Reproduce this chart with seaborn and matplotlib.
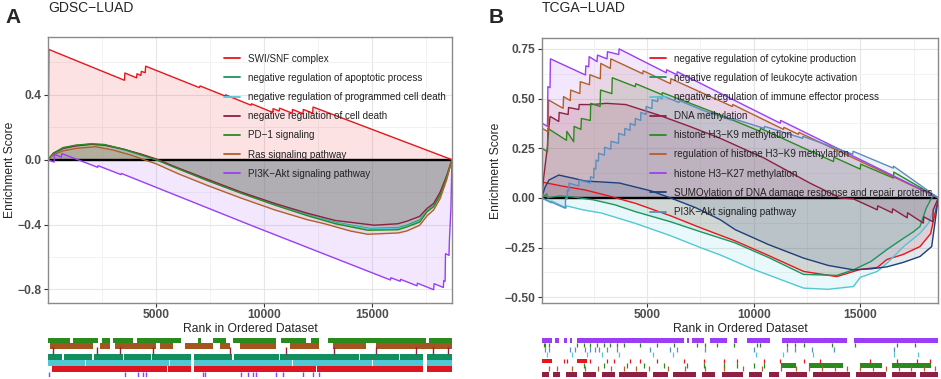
import numpy as np
import pandas as pd
import matplotlib
matplotlib.use('Agg')
import matplotlib.pyplot as plt
import seaborn as sns
from matplotlib.lines import Line2D
from matplotlib.ticker import FixedLocator

sns.set_theme(style='white')
plt.rcParams['font.family'] = ['Liberation Sans', 'DejaVu Sans']

# ---------------- panel A : GDSC-LUAD ----------------
a_names = ['SWI/SNF complex', 'negative regulation of apoptotic process',
           'negative regulation of programmed cell death', 'negative regulation of cell death',
           'PD\u22121 signaling', 'Ras signaling pathway', 'PI3K\u2212Akt signaling pathway']
a_colors = ['#E8161C', '#1E9460', '#52C8D6', '#8E2043', '#2A8A1E', '#B0602A', '#9B3DF5']

swi_rank = [1, 40, 3540, 3560, 4100, 4120, 4300, 4320, 4500, 4520, 7000, 7040, 8200, 8220, 9400, 9420,
            10400, 10420, 10700, 10720, 11300, 11320, 11800, 11820, 12250, 12270, 18700]
swi_es = [0, 0.68, 0.49, 0.535, 0.505, 0.53, 0.52, 0.545, 0.537, 0.577, 0.445, 0.455, 0.393, 0.40,
          0.336, 0.345, 0.292, 0.315, 0.30, 0.318, 0.287, 0.31, 0.284, 0.31, 0.287, 0.325, 0]

apop_rank = [1, 250, 700, 1300, 2000, 2600, 3500, 4300, 5000, 6000, 7400, 8900, 10500, 12000, 13300,
             14900, 16200, 16600, 17200, 17550, 17850, 18150, 18450, 18700]
apop_es = [0, 0.035, 0.07, 0.088, 0.096, 0.092, 0.063, 0.03, 0.002, -0.052, -0.127, -0.202, -0.276,
           -0.34, -0.387, -0.425, -0.42, -0.405, -0.372, -0.315, -0.283, -0.215, -0.108, 0]

prog_rank = [1, 250, 700, 1300, 2000, 2600, 3500, 4300, 5000, 6000, 7400, 8900, 10500, 12000, 13300,
             14900, 16200, 16600, 17200, 17550, 17850, 18150, 18450, 18700]
prog_es = [0, 0.036, 0.071, 0.088, 0.095, 0.091, 0.062, 0.03, 0.001, -0.053, -0.128, -0.203, -0.277,
           -0.342, -0.39, -0.428, -0.424, -0.41, -0.378, -0.318, -0.286, -0.218, -0.11, 0]

death_rank = [1, 250, 700, 1300, 2000, 2600, 3500, 4300, 5000, 6000, 7400, 8900, 10500, 12000, 13300,
              15100, 16200, 16600, 17200, 17550, 17850, 18150, 18450, 18700]
death_es = [0, 0.04, 0.07, 0.085, 0.095, 0.09, 0.065, 0.035, 0.005, -0.05, -0.122, -0.198, -0.27,
            -0.33, -0.375, -0.404, -0.395, -0.38, -0.35, -0.30, -0.27, -0.20, -0.10, 0]

pd1_rank = [1, 250, 700, 1300, 2000, 2600, 3500, 4300, 5000, 6000, 7400, 8900, 10500, 12000, 13300,
            14800, 16200, 16600, 17200, 17550, 17850, 18150, 18450, 18700]
pd1_es = [0, 0.04, 0.075, 0.09, 0.098, 0.094, 0.065, 0.03, 0.0, -0.055, -0.13, -0.205, -0.28, -0.345,
          -0.395, -0.435, -0.432, -0.415, -0.385, -0.32, -0.29, -0.22, -0.11, 0]

ras_rank = [1, 250, 700, 1300, 2200, 3000, 3800, 4450, 5000, 6000, 7400, 8900, 10500, 12000, 12800,
            14000, 14800, 16200, 16600, 17200, 17550, 17850, 18150, 18450, 18700]
ras_es = [0, 0.03, 0.055, 0.07, 0.08, 0.06, 0.03, 0.0, -0.025, -0.085, -0.16, -0.235, -0.31, -0.37,
          -0.395, -0.44, -0.46, -0.452, -0.44, -0.405, -0.345, -0.31, -0.24, -0.125, 0]

pi3k_a_rank = [1, 280, 300, 620, 640, 2300, 2320, 3380, 3400, 9400, 15850, 15870, 16300, 16320, 17080,
               17100, 17850, 17870, 18300, 18320, 18380, 18400, 18560, 18580, 18650, 18700]
pi3k_a_es = [0, -0.015, 0.033, 0.016, 0.038, -0.047, -0.037, -0.092, -0.085, -0.405, -0.742, -0.728,
             -0.75, -0.738, -0.778, -0.762, -0.802, -0.765, -0.788, -0.745, -0.75, -0.58, -0.59, -0.5,
             -0.3, 0]

a_ranks = [swi_rank, apop_rank, prog_rank, death_rank, pd1_rank, ras_rank, pi3k_a_rank]
a_scores = [swi_es, apop_es, prog_es, death_es, pd1_es, ras_es, pi3k_a_es]

# rug rows of panel A (top to bottom): dense runs of hits and single hits
a_rug_green = [(1, 1016), (1170, 2325), (2479, 2864), (3018, 3942), (4127, 6175), (6945, 7099),
               (7638, 8254), (8562, 10564), (10795, 11950), (12181, 12566), (12951, 17494), (17648, 18700)]
a_rug_brown = [(92, 2094), (2402, 2864), (3095, 5020), (5174, 5790), (6329, 7638), (7946, 8408),
               (8870, 10564), (11180, 12566), (13182, 14722), (15184, 18700)]
a_rug_maroon = [246, 2248, 3326, 4866, 8408, 11026, 13259, 15184, 17032, 17802, 18495]
a_rug_teal = [(1, 660), (730, 2060), (2130, 3450), (3510, 4760), (4820, 6620), (6780, 8530),
              (8600, 10690), (10750, 14380), (14450, 16230), (16300, 17340), (17550, 18700)]
a_rug_cyan = [(1, 1700), (1760, 5600), (5660, 6620), (6780, 11300), (11360, 15000), (15060, 17340),
              (17550, 18700)]
a_rug_red = [(200, 5500), (5560, 6620), (6780, 12400), (12460, 17340), (17550, 18700)]
a_rug_purple = [62, 3557, 4173, 4404, 4558, 7176, 7253, 8947, 9255, 9486, 9640, 10564, 10872, 11796,
                12258, 12566]

# ---------------- panel B : TCGA-LUAD ----------------
b_names = ['negative regulation of cytokine production', 'negative regulation of leukocyte activation',
           'negative regulation of immune effector process', 'DNA methylation',
           'histone H3\u2212K9 methylation', 'regulation of histone H3\u2212K9 methylation',
           'histone H3\u2212K27 methylation', 'SUMOylation of DNA damage response and repair proteins',
           'PI3K\u2212Akt signaling pathway']
b_colors = ['#E8161C', '#1E9460', '#52C8D6', '#8E2043', '#2A8A1E', '#B0602A', '#9B3DF5', '#1F3F7A',
            '#5B8DBE']

cyto_rank = [60, 90, 300, 1000, 2100, 3200, 4450, 6100, 7500, 9100, 10700, 12340, 13900, 15000, 15800,
             16250, 17000, 17800, 18300, 18660]
cyto_es = [0, 0.08, 0.075, 0.06, 0.04, 0.01, -0.027, -0.09, -0.15, -0.215, -0.29, -0.37, -0.396, -0.36,
           -0.35, -0.31, -0.285, -0.245, -0.18, 0]

leuk_rank = [60, 300, 320, 900, 1500, 2500, 3500, 4450, 6100, 7500, 9100, 10700, 12340, 13900, 14680,
             15500, 16250, 17030, 17500, 17800, 18100, 18300, 18450, 18660]
leuk_es = [0, 0.02, 0.0, 0.01, 0.005, -0.01, -0.035, -0.069, -0.12, -0.17, -0.225, -0.30, -0.385, -0.39,
           -0.362, -0.32, -0.26, -0.203, -0.17, -0.144, -0.05, -0.01, 0.015, 0]

immu_rank = [60, 500, 520, 1200, 1220, 2000, 2890, 4500, 6100, 7500, 8435, 10000, 12340, 13500, 14680,
             15000, 15800, 16250, 17030, 17800, 18200, 18660]
immu_es = [0, -0.025, -0.015, -0.05, -0.04, -0.06, -0.077, -0.13, -0.19, -0.25, -0.287, -0.36, -0.454,
           -0.46, -0.446, -0.40, -0.37, -0.329, -0.245, -0.178, -0.127, 0]

dna_rank = [60, 150, 330, 350, 440, 460, 860, 880, 1300, 1320, 1800, 1820, 2400, 3100, 4000, 5545, 7000,
            8435, 10500, 12650, 14060, 14680, 15800, 15820, 16500, 16520, 17200, 17220, 17960, 17980,
            18400, 18420, 18660]
dna_es = [0, 0.10, 0.258, 0.30, 0.40, 0.41, 0.385, 0.43, 0.42, 0.455, 0.445, 0.47, 0.47, 0.476, 0.47,
          0.417, 0.36, 0.30, 0.20, 0.074, 0.0, -0.005, -0.06, -0.04, -0.075, -0.055, -0.10, -0.075,
          -0.127, -0.095, -0.12, -0.06, 0]

k9_rank = [60, 80, 330, 350, 1220, 1240, 1560, 1580, 1900, 1920, 2340, 2360, 2800, 2820, 3350, 3370,
           4450, 4470, 5700, 5720, 8435, 10300, 10320, 13744, 13764, 15000, 15020, 16555, 16575, 18660]
k9_es = [0, 0.25, 0.232, 0.35, 0.29, 0.335, 0.283, 0.36, 0.345, 0.40, 0.39, 0.476, 0.46, 0.543, 0.525,
         0.605, 0.56, 0.575, 0.52, 0.53, 0.418, 0.335, 0.35, 0.183, 0.205, 0.145, 0.17, 0.10, 0.13, 0]

regk9_rank = [60, 80, 360, 380, 1065, 1085, 1400, 1420, 1850, 1870, 2300, 2320, 2810, 2830, 3280, 3300,
              4800, 4820, 6100, 6120, 9000, 9020, 11400, 11420, 12100, 12120, 18660]
regk9_es = [0, 0.35, 0.333, 0.493, 0.451, 0.51, 0.49, 0.543, 0.525, 0.585, 0.57, 0.62, 0.60, 0.677,
            0.652, 0.70, 0.625, 0.64, 0.575, 0.60, 0.46, 0.47, 0.345, 0.355, 0.32, 0.33, 0]

k27_rank = [60, 80, 330, 350, 450, 470, 2109, 2130, 2265, 2285, 2656, 2676, 3124, 3144, 3671, 3691,
            5900, 5920, 6400, 6420, 11246, 11266, 18660]
k27_es = [0, 0.376, 0.36, 0.56, 0.555, 0.70, 0.619, 0.665, 0.66, 0.711, 0.686, 0.719, 0.70, 0.736,
          0.722, 0.75, 0.63, 0.645, 0.62, 0.635, 0.376, 0.39, 0]

sumo_rank = [60, 200, 400, 860, 1500, 2100, 3700, 5200, 6100, 7300, 8435, 9138, 10700, 12340, 13500,
             14680, 15500, 16250, 17000, 17800, 18350, 18660]
sumo_es = [0, 0.05, 0.09, 0.115, 0.10, 0.085, 0.075, 0.035, 0.0, -0.05, -0.11, -0.16, -0.235, -0.303,
           -0.34, -0.362, -0.357, -0.347, -0.325, -0.295, -0.245, 0]

pi3k_b_rank = [60, 1170, 1180, 1250, 1260, 1330, 1340, 1800, 1810, 2340, 2350, 2500, 2510, 2600, 2610,
               2720, 2730, 3000, 3010, 3300, 3310, 3660, 3670, 3950, 3960, 4200, 4210, 4440, 4450, 4700,
               4710, 4950, 4960, 5230, 5240, 5500, 5510, 5700, 5710, 6500, 6510, 7650, 9000, 9010, 10500,
               10510, 12300, 12310, 14650, 14660, 16550, 16560, 18660]
pi3k_b_es = [0, -0.052, 0.0, -0.005, 0.04, 0.035, 0.074, 0.06, 0.09, 0.075, 0.107, 0.10, 0.15, 0.145,
             0.19, 0.185, 0.225, 0.215, 0.255, 0.245, 0.285, 0.275, 0.325, 0.315, 0.35, 0.34, 0.375, 0.365,
             0.40, 0.39, 0.43, 0.42, 0.46, 0.45, 0.493, 0.485, 0.51, 0.50, 0.515, 0.48, 0.49, 0.44, 0.39,
             0.40, 0.35, 0.36, 0.30, 0.31, 0.22, 0.235, 0.15, 0.16, 0]

b_ranks = [cyto_rank, leuk_rank, immu_rank, dna_rank, k9_rank, regk9_rank, k27_rank, sumo_rank, pi3k_b_rank]
b_scores = [cyto_es, leuk_es, immu_es, dna_es, k9_es, regk9_es, k27_es, sumo_es, pi3k_b_es]

b_rug_purple = [(80, 549), (705, 861), (1095, 1252), (1408, 1486), (1720, 6719), (6875, 6953),
                (7109, 7656), (7968, 8749), (9061, 9218), (9686, 10780), (11326, 14372), (14685, 18660)]
b_rug_k9 = [158, 236, 392, 1720, 2033, 2345, 2657, 2970, 3282, 3595, 3907, 4688, 5469, 6250, 7343,
            7734, 8281, 9061, 10155, 10311, 11561, 11951, 12342, 13670, 14763, 16715, 17574]
b_rug_steel = [236, 392, 1408, 1642, 2111, 2345, 2579, 2735, 3126, 3595, 5157, 6094, 6406, 7734,
               10000, 11561, 11951, 12732, 13748, 16559]
b_rug_cyan = [300, 1500, 2200, 2900, 3700, 5300, 6200, 10100, 11400, 12800, 16600, 17700]
b_rug_red_runs = [(80, 549), (1720, 2189)]
b_rug_red = [1095, 1252, 2345, 3126, 3438, 4219, 4688, 5469, 6719, 7656, 8593, 9218, 10467, 11248,
             12342, 13123, 15466, 16715, 17652, 18277]
b_rug_green = [2033, 2970, 4063, 4844, 5781, 6875, 7656, 8593, 9218, 10000, 10467]
b_rug_green_runs = [(11300, 12000), (12600, 14200), (15000, 16000), (16500, 18300)]
b_rug_brown = [392, 800, 1500, 2100, 2700, 3300, 3900, 4500, 5100, 6000, 6800, 7700, 8600, 9500, 10400,
               11300, 12000, 12600, 13200, 13800, 14400, 15000, 15600, 16200, 16800, 17400, 18000, 18500]
b_rug_maroon = [(80, 400), (600, 900), (1200, 1700), (2000, 2600), (2900, 3500), (3700, 5000),
                (5300, 6000), (6200, 7300), (7600, 8200), (8500, 9500), (9800, 10400), (10700, 11200),
                (11500, 12500), (12800, 14500), (14800, 16200), (16500, 17600), (17800, 18660)]

W, H = 941, 379


def es_panel(rect, names, colors, ranks, scores, xlim, ylim, yticks, yminor, fmt, leg_xy, pad):
    ax = fig.add_axes(rect)
    frames = []
    for n, r, s in zip(names, ranks, scores):
        frames.append(pd.DataFrame({'rank': r, 'es': s, 'set': n}))
    df = pd.concat(frames, ignore_index=True)
    for n, c in zip(names, colors):
        sub = df[df['set'] == n]
        ax.fill_between(sub['rank'], sub['es'], 0, color=c, alpha=0.12, lw=0, zorder=1)
    ax.axhline(0, color='black', lw=1.7, zorder=1.5)
    sns.lineplot(data=df, x='rank', y='es', hue='set', hue_order=names,
                 palette=dict(zip(names, colors)), estimator=None, sort=False,
                 legend=False, lw=1.0, ax=ax, zorder=2)
    ax.set_xlim(*xlim)
    ax.set_ylim(*ylim)
    ax.set_xticks([5000, 10000, 15000], ['5000', '10000', '15000'], fontweight='bold')
    ax.set_yticks(yticks, [fmt.format(v).replace('-', '\u2212') for v in yticks], fontweight='bold')
    ax.xaxis.set_minor_locator(FixedLocator([2500, 7500, 12500, 17500]))
    ax.yaxis.set_minor_locator(FixedLocator(yminor))
    ax.grid(which='major', color='#E6E6E6', lw=0.8)
    ax.grid(which='minor', color='#F0F0F0', lw=0.6)
    ax.set_axisbelow(True)
    ax.tick_params(which='major', length=3, width=0.8, color='#333333', pad=1.5,
                   labelsize=8.7, labelcolor='#4D4D4D', bottom=True, left=True)
    ax.tick_params(which='minor', length=0)
    for sp in ax.spines.values():
        sp.set_color('#8A8A8A')
        sp.set_linewidth(1.0)
    ax.set_xlabel('Rank in Ordered Dataset', fontsize=8.7, labelpad=1.5)
    ax.set_ylabel('Enrichment Score', fontsize=8.7, labelpad=pad)
    handles = [Line2D([0], [0], color=c, lw=1.3) for c in colors]
    ax.legend(handles, names, loc='upper left', bbox_to_anchor=leg_xy, frameon=False, fontsize=7.1,
              handlelength=1.65, handletextpad=0.75, labelspacing=0.93, borderpad=0,
              borderaxespad=0, labelcolor='#222222')
    return ax


def rug_axes(rect, xlim):
    ax = fig.add_axes(rect)
    ax.set_xlim(*xlim)
    ax.set_ylim(0, 39)
    ax.axis('off')
    return ax


def runs(ax, spans, y0, h, c):
    ax.broken_barh([(s, e - s) for s, e in spans], (y0, h), facecolors=c, lw=0)


fig = plt.figure(figsize=(W / 100, H / 100), dpi=100)

# panel A
ax_a = es_panel([48 / W, 76 / H, 404 / W, 266 / H], a_names, a_colors, a_ranks, a_scores,
                (1, 18700), (-0.884, 0.757), [-0.8, -0.4, 0.0, 0.4], [-0.6, -0.2, 0.2, 0.6],
                '{:.1f}', (0.436, 0.937), 1.5)
rug_a = rug_axes([48 / W, 2 / H, 404 / W, 39 / H], (1, 18700))
runs(rug_a, a_rug_green, 34, 5, '#2A8A1E')
runs(rug_a, a_rug_brown, 28.5, 5.5, '#A3541F')
rug_a.vlines(a_rug_maroon, 23.5, 30, colors='#8E2043', lw=1.0)
runs(rug_a, a_rug_teal, 17, 6, '#138F5F')
runs(rug_a, a_rug_cyan, 11, 6, '#4FC8D5')
runs(rug_a, a_rug_red, 5, 6, '#E0141E')
rug_a.vlines(a_rug_purple, 0, 5, colors='#9B3DF5', lw=1.0)

# panel B
ax_b = es_panel([541.7 / W, 76 / H, 396.6 / W, 265 / H], b_names, b_colors, b_ranks, b_scores,
                (60, 18660), (-0.529, 0.805), [-0.5, -0.25, 0.0, 0.25, 0.5, 0.75],
                [-0.375, -0.125, 0.125, 0.375, 0.625], '{:.2f}', (0.273, 0.941), 1.5)
rug_b = rug_axes([541.7 / W, 2 / H, 396.6 / W, 39 / H], (60, 18660))
runs(rug_b, b_rug_purple, 34.5, 4.5, '#9B3DF5')
rug_b.vlines(b_rug_k9, 30.3, 33.7, colors='#2A8A1E', lw=0.9)
rug_b.vlines(b_rug_steel, 25.5, 30.3, colors='#5B8DBE', lw=0.9)
rug_b.vlines(b_rug_cyan, 20.5, 25.5, colors='#52C8D6', lw=0.9)
runs(rug_b, b_rug_red_runs, 14, 4.5, '#E8161C')
rug_b.vlines(b_rug_red, 14, 18.5, colors='#E8161C', lw=0.9)
rug_b.vlines(b_rug_green, 9, 13.7, colors='#2A8A1E', lw=0.9)
runs(rug_b, b_rug_green_runs, 9, 4.7, '#2A8A1E')
rug_b.vlines(b_rug_brown, 6, 11, colors='#B0602A', lw=0.9)
runs(rug_b, b_rug_maroon, 0.3, 5, '#8E2043')

# titles and panel letters
fig.text(48 / W, 1 - 8 / H, 'GDSC\u2212LUAD', fontsize=10, va='center', ha='left')
fig.text(5 / W, 1 - 17.5 / H, 'A', fontsize=15, fontweight='bold', va='center', ha='left')
fig.text(541.7 / W, 1 - 8 / H, 'TCGA\u2212LUAD', fontsize=10, va='center', ha='left')
fig.text(489 / W, 1 - 17.5 / H, 'B', fontsize=15, fontweight='bold', va='center', ha='left')

fig.savefig('out.png', dpi=100)
